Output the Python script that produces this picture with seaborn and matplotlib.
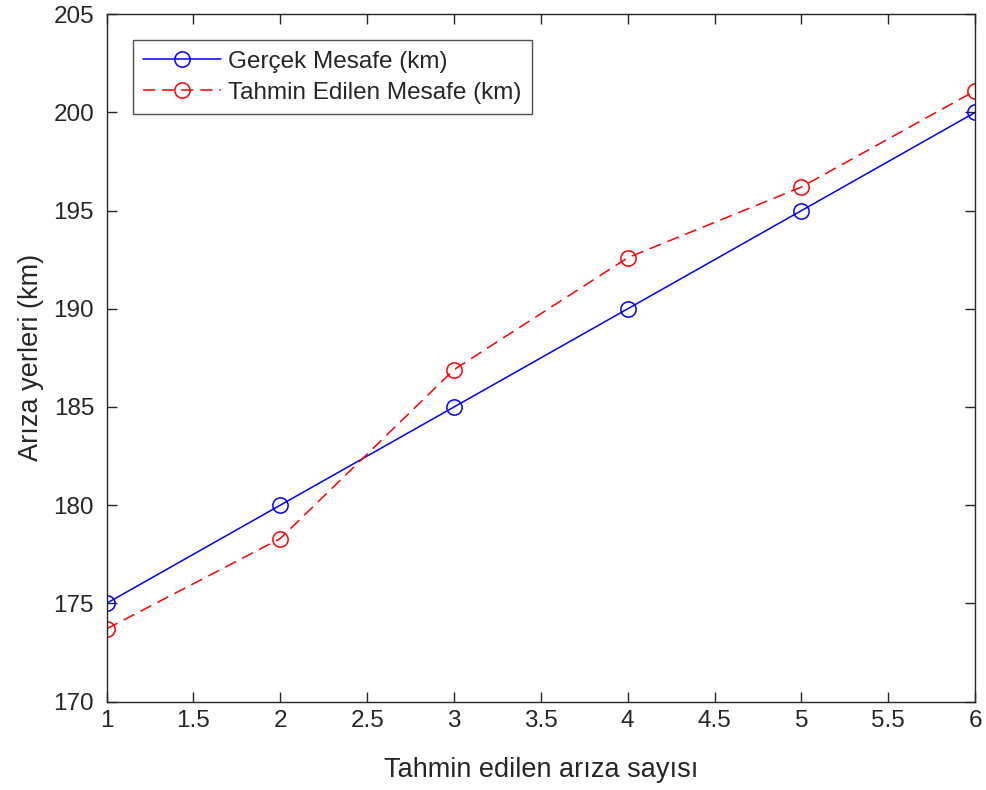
import matplotlib
matplotlib.use("Agg")
import matplotlib.pyplot as plt
import seaborn as sns
import pandas as pd

# Fault count and distances (km)
ariza_sayisi = [1, 2, 3, 4, 5, 6]
gercek_mesafe = [175, 180, 185, 190, 195, 200]
tahmin_mesafe = [173.7, 178.3, 186.9, 192.6, 196.2, 201.1]

x_ticks = [1, 1.5, 2, 2.5, 3, 3.5, 4, 4.5, 5, 5.5, 6]
x_tick_labels = ["1", "1.5", "2", "2.5", "3", "3.5", "4", "4.5", "5", "5.5", "6"]
y_ticks = [170, 175, 180, 185, 190, 195, 200, 205]

sns.set_theme(style="white")
plt.rcParams["font.family"] = ["Liberation Sans", "DejaVu Sans"]

df = pd.DataFrame({"x": ariza_sayisi, "gercek": gercek_mesafe, "tahmin": tahmin_mesafe})

fig = plt.figure(figsize=(9.87, 7.90), dpi=100)
ax = fig.add_axes([0.108, 0.112, 0.880, 0.870])

sns.lineplot(data=df, x="x", y="gercek", ax=ax, color="#0000ff", lw=1.1,
             marker="o", markersize=11, markerfacecolor="none",
             markeredgecolor="#0000ff", markeredgewidth=1.1,
             label="Gerçek Mesafe (km)")
sns.lineplot(data=df, x="x", y="tahmin", ax=ax, color="#ff0000", lw=1.1,
             marker="o", markersize=11, markerfacecolor="none",
             markeredgecolor="#ff0000", markeredgewidth=1.1,
             label="Tahmin Edilen Mesafe (km)")
ax.lines[1].set_dashes([8, 4.5])

ax.set_xlim(1, 6)
ax.set_ylim(170, 205)
ax.set_xticks(x_ticks)
ax.set_xticklabels(x_tick_labels)
ax.set_yticks(y_ticks)

for side in ["top", "right", "bottom", "left"]:
    ax.spines[side].set_visible(True)
    ax.spines[side].set_color("#262626")
    ax.spines[side].set_linewidth(1.0)

ax.tick_params(axis="both", which="both", direction="in", length=7, width=1.0,
               color="#262626", labelsize=17.5, labelcolor="#262626",
               top=True, right=True, bottom=True, left=True)
ax.tick_params(axis="x", pad=6)
ax.tick_params(axis="y", pad=9)

ax.set_xlabel("Tahmin edilen arıza sayısı", fontsize=19.5, color="#262626", labelpad=18)
ax.set_ylabel("Arıza yerleri (km)", fontsize=19.5, color="#262626", labelpad=7)
ax.grid(False)

leg = ax.legend(loc="upper left", bbox_to_anchor=(0.030, 0.962), fontsize=17.5,
                frameon=True, fancybox=False, edgecolor="#262626",
                handlelength=3.2, borderpad=0.42, labelspacing=0.38,
                handletextpad=0.3, borderaxespad=0.0)
leg.get_frame().set_linewidth(1.0)
for t in leg.get_texts():
    t.set_color("#262626")

fig.savefig("out.png", dpi=100)
